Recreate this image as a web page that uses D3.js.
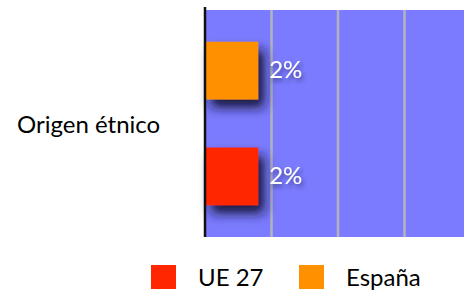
<!DOCTYPE html>
<html>
<head>
<meta charset="utf-8">
<script src="https://cdn.jsdelivr.net/npm/d3@7"></script>
<style>
  body { margin: 0; background: #fff; }
  svg { display: block; font-family: "Lato", "DejaVu Sans", sans-serif; }
</style>
</head>
<body>
<script>
'use strict'
const categories = ["Origen étnico"];
const seriesNames = ["España", "UE 27"];
const seriesColors = ["#ff9100", "#ff2600"];
const values = [2, 2];
const valueLabels = ["2%", "2%"];
const legendNames = ["UE 27", "España"];
const legendColors = ["#ff2600", "#ff9100"];
const gridTicks = [2.5, 5, 7.5];

const w = 464;
const h = 293;
const plotLeft = 205;
const plotTop = 10;
const plotBottom = 237;

const svg = d3.select("body").append("svg")
	.attr("width", w)
	.attr("height", h);

const defs = svg.append("defs");
const shadow = defs.append("filter")
	.attr("id", "shadow")
	.attr("x", "-50%").attr("y", "-50%")
	.attr("width", "200%").attr("height", "200%");
shadow.append("feGaussianBlur").attr("in", "SourceAlpha").attr("stdDeviation", 6).attr("result", "b");
shadow.append("feOffset").attr("in", "b").attr("dx", 6).attr("dy", 8).attr("result", "o");
shadow.append("feFlood").attr("flood-color", "#15153a").attr("flood-opacity", 1);
shadow.append("feComposite").attr("in2", "o").attr("operator", "in");
const m1 = shadow.append("feMerge");
m1.append("feMergeNode");
m1.append("feMergeNode").attr("in", "SourceGraphic");

const tshadow = defs.append("filter")
	.attr("id", "tshadow")
	.attr("x", "-50%").attr("y", "-50%")
	.attr("width", "200%").attr("height", "200%");
tshadow.append("feGaussianBlur").attr("in", "SourceAlpha").attr("stdDeviation", 2).attr("result", "b");
tshadow.append("feOffset").attr("in", "b").attr("dx", 2).attr("dy", 3).attr("result", "o");
tshadow.append("feFlood").attr("flood-color", "#2a2a60").attr("flood-opacity", 0.7);
tshadow.append("feComposite").attr("in2", "o").attr("operator", "in");
const m2 = tshadow.append("feMerge");
m2.append("feMergeNode");
m2.append("feMergeNode").attr("in", "SourceGraphic");

const xScale = d3.scaleLinear()
	.domain([0, 10])
	.range([plotLeft, 471]);

const yCat = d3.scaleBand()
	.domain(categories)
	.range([plotTop, plotBottom]);

const yScale = d3.scaleBand()
	.domain(seriesNames)
	.range([plotTop, plotBottom])
	.paddingInner(0.454)
	.paddingOuter(0.3);

// plot background
svg.append("rect")
	.attr("x", plotLeft)
	.attr("y", plotTop)
	.attr("width", w - plotLeft)
	.attr("height", plotBottom - plotTop)
	.attr("fill", "#7b7bff");

// grid
svg.selectAll(".grid")
	.data(gridTicks)
	.enter()
	.append("line")
	.attr("class", "grid")
	.attr("x1", (d) => xScale(d))
	.attr("x2", (d) => xScale(d))
	.attr("y1", plotTop)
	.attr("y2", plotBottom)
	.attr("stroke", "#b3b3bd")
	.attr("stroke-width", 2.5);

// bars
svg.selectAll(".bar")
	.data(values)
	.enter()
	.append("rect")
	.attr("class", "bar")
	.attr("x", xScale(0))
	.attr("y", (d, i) => yScale(seriesNames[i]))
	.attr("width", (d) => xScale(d) - xScale(0))
	.attr("height", yScale.bandwidth())
	.attr("fill", (d, i) => seriesColors[i])
	.attr("filter", "url(#shadow)");

// value labels
svg.selectAll(".val")
	.data(values)
	.enter()
	.append("text")
	.attr("class", "val")
	.attr("x", (d) => xScale(d) + 11)
	.attr("y", (d, i) => yScale(seriesNames[i]) + yScale.bandwidth() / 2 - 1)
	.attr("dy", "0.36em")
	.attr("fill", "#fff")
	.attr("font-size", 24)
	.attr("filter", "url(#tshadow)")
	.text((d, i) => valueLabels[i]);

// axis line
svg.append("line")
	.attr("x1", plotLeft)
	.attr("x2", plotLeft)
	.attr("y1", 7)
	.attr("y2", plotBottom)
	.attr("stroke", "#111")
	.attr("stroke-width", 2.5);

// category labels
svg.selectAll(".cat")
	.data(categories)
	.enter()
	.append("text")
	.attr("class", "cat")
	.attr("x", 17)
	.attr("y", (d) => yCat(d) + yCat.bandwidth() / 2 + 1)
	.attr("dy", "0.36em")
	.attr("font-size", 24)
	.attr("fill", "#000")
	.text((d) => d);

// legend
const legX = [151, 299];
const leg = svg.selectAll(".leg")
	.data(legendNames)
	.enter()
	.append("g")
	.attr("class", "leg")
	.attr("transform", (d, i) => "translate(" + legX[i] + ",265)");

leg.append("rect")
	.attr("width", 25)
	.attr("height", 24)
	.attr("fill", (d, i) => legendColors[i]);

leg.append("text")
	.attr("x", 47)
	.attr("y", 12)
	.attr("dy", "0.36em")
	.attr("font-size", 24)
	.attr("fill", "#000")
	.text((d) => d);
</script>
</body>
</html>
